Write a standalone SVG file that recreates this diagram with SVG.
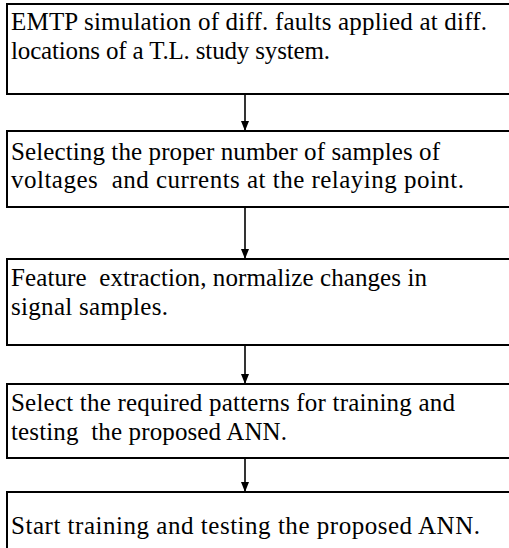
<svg xmlns="http://www.w3.org/2000/svg" width="509" height="548" viewBox="0 0 509 548">
  <style>
    .box { fill: #ffffff; stroke: #000000; stroke-width: 2; }
    .label { font-family: "Liberation Serif", "DejaVu Serif", "Times New Roman", serif; font-size: 25px; fill: #000000; white-space: pre; }
    .link { stroke: #000000; stroke-width: 1.6; fill: none; marker-end: url(#arrow); }
  </style>
  <defs>
    <marker id="arrow" markerWidth="10" markerHeight="8" refX="10" refY="4" orient="auto" markerUnits="userSpaceOnUse">
      <path d="M0,0 L10,4 L0,8 Z" fill="#000000"/>
    </marker>
  </defs>
  <rect width="509" height="548" fill="#ffffff"/>

  <g id="connectors">
    <line class="link" x1="245" y1="94" x2="245" y2="131"/>
    <line class="link" x1="245" y1="207" x2="245" y2="259"/>
    <line class="link" x1="245" y1="345" x2="245" y2="384"/>
    <line class="link" x1="245" y1="458" x2="245" y2="492"/>
  </g>

  <g id="step1">
    <rect class="box" x="7" y="4" width="510" height="90"/>
    <text class="label" x="11" y="30" textLength="476">EMTP simulation of diff. faults applied at diff.</text>
    <text class="label" x="11" y="59" textLength="319">locations of a T.L. study system.</text>
  </g>

  <g id="step2">
    <rect class="box" x="7" y="131" width="510" height="76"/>
    <text class="label" x="11" y="160" textLength="429">Selecting the proper number of samples of</text>
    <text class="label" x="11" y="188" textLength="453">voltages  and currents at the relaying point.</text>
  </g>

  <g id="step3">
    <rect class="box" x="7" y="259" width="510" height="86"/>
    <text class="label" x="11" y="286" textLength="416">Feature  extraction, normalize changes in</text>
    <text class="label" x="11" y="315" textLength="157">signal samples.</text>
  </g>

  <g id="step4">
    <rect class="box" x="7" y="384" width="510" height="74"/>
    <text class="label" x="11" y="411" textLength="444">Select the required patterns for training and</text>
    <text class="label" x="11" y="440" textLength="276">testing  the proposed ANN.</text>
  </g>

  <g id="step5">
    <rect class="box" x="7" y="492" width="510" height="70"/>
    <text class="label" x="11" y="534" textLength="469">Start training and testing the proposed ANN.</text>
  </g>
</svg>
